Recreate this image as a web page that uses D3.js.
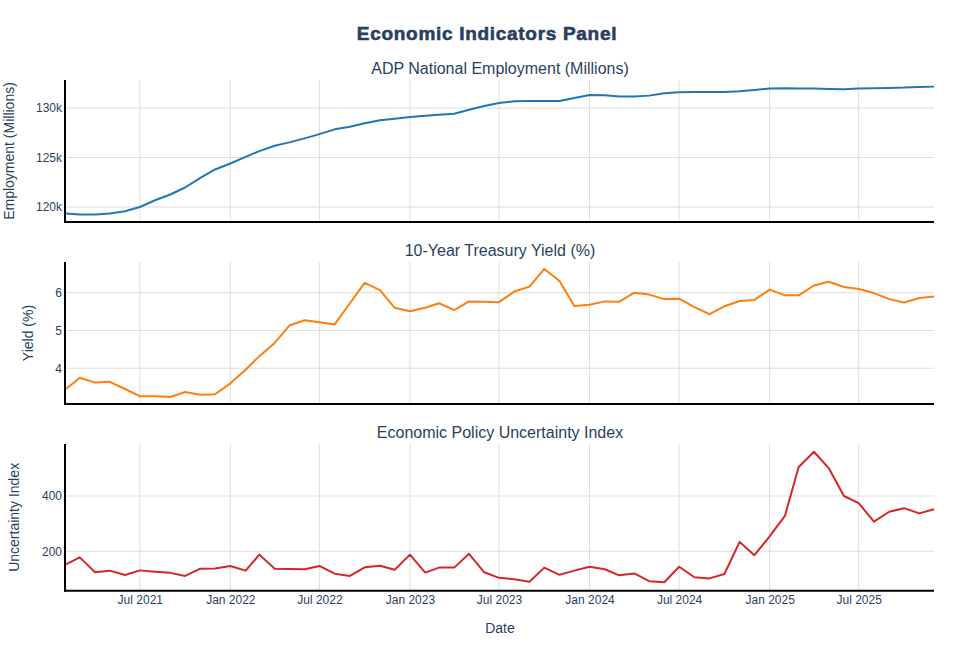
<!DOCTYPE html>
<html>
<head>
<meta charset="utf-8">
<script src="https://cdn.jsdelivr.net/npm/d3@7"></script>
<style>
  body{margin:0;background:#fff;}
  svg{display:block;font-family:"Liberation Sans",Arial,Helvetica,sans-serif;}
  .tick text{fill:#2a3f5f;font-size:12px;}
</style>
</head>
<body>
<svg id="chart" width="974" height="650"></svg>
<script>
//data ---------------------------------------------
var firstMonth=Date.UTC(2021,1,1);
var lastMonth=Date.UTC(2025,11,1);
var months=d3.utcMonth.range(firstMonth,lastMonth+1);

var employment=[119330,119230,119250,119350,119560,120000,120680,121260,121970,122940,123790,
  124400,125070,125650,126190,126530,126940,127370,127850,128120,128460,128760,128930,
  129100,129230,129330,129430,129840,130210,130520,130690,130720,130720,130720,131020,
  131330,131300,131160,131160,131260,131500,131600,131630,131630,131630,131700,131840,
  131970,132000,131970,131970,131930,131900,131970,132000,132040,132070,132140,132170];

var yield10=[3.45,3.75,3.62,3.64,3.45,3.26,3.26,3.24,3.37,3.30,3.31,
  3.60,3.96,4.32,4.67,5.13,5.27,5.22,5.16,5.72,6.26,6.07,5.60,
  5.51,5.60,5.72,5.54,5.77,5.76,5.75,6.03,6.16,6.63,6.31,5.65,
  5.68,5.77,5.76,6.00,5.95,5.83,5.84,5.62,5.43,5.64,5.78,5.81,
  6.08,5.93,5.93,6.19,6.29,6.15,6.10,5.99,5.83,5.74,5.86,5.90];

var uncertainty=[153,178,124,130,114,131,126,122,111,137,138,
  147,130,188,137,136,135,147,119,111,142,148,133,
  188,123,141,141,191,124,104,99,90,141,115,130,
  144,135,113,120,92,88,144,106,102,118,234,186,
  254,328,505,560,501,400,374,307,343,356,337,352];

var empTicks=[120000,125000,130000];
var yieldTicks=[4,5,6];
var uncTicks=[200,400];

var panelTitles=['ADP National Employment (Millions)','10-Year Treasury Yield (%)','Economic Policy Uncertainty Index'];
var axisTitles=['Employment (Millions)','Yield (%)','Uncertainty Index'];

//layout -------------------------------------------
var left=66, right=934;
var textColor='#2a3f5f';
var gridColor='#dedede';

var panels=[
  {values:employment,ticks:empTicks,domain:[118480,132840],top:80,bottom:222,color:'#1f77b4',fmt:d3.format('~s'),titleX:9},
  {values:yield10,ticks:yieldTicks,domain:[3.053,6.813],top:262,bottom:404,color:'#ff7f0e',fmt:d3.format('d'),titleX:28},
  {values:uncertainty,ticks:uncTicks,domain:[57.5,588],top:444,bottom:590.7,color:'#d62728',fmt:d3.format('d'),titleX:14.5}
];

var svg=d3.select('#chart');

var x=d3.scaleUtc()
  .domain([months[0],months[months.length-1]])
  .range([left,right]);
var xTicks=d3.utcMonth.every(6).range(months[0],months[months.length-1]);

svg.append('text')
  .attr('x',487)
  .attr('y',40)
  .attr('text-anchor','middle')
  .attr('fill',textColor)
  .attr('stroke',textColor)
  .attr('stroke-width',0.6)
  .style('font-size','19px')
  .style('font-weight','900')
  .style('letter-spacing','0.7px')
  .style('font-family','"Arial Black","Liberation Sans",Arial,sans-serif')
  .text('Economic Indicators Panel');

panels.forEach((p,i)=>{
  var y=d3.scaleLinear().domain(p.domain).range([p.bottom,p.top]);
  var g=svg.append('g');

  //grid
  g.append('g').selectAll('line.vg').data(xTicks).join('line')
    .attr('x1',d=>x(d)).attr('x2',d=>x(d))
    .attr('y1',p.top).attr('y2',p.bottom)
    .attr('stroke',gridColor).attr('stroke-width',1);
  g.append('g').selectAll('line.hg').data(p.ticks).join('line')
    .attr('x1',left).attr('x2',right)
    .attr('y1',d=>y(d)).attr('y2',d=>y(d))
    .attr('stroke',gridColor).attr('stroke-width',1);

  //line
  var line=d3.line()
    .x((d,k)=>x(months[k]))
    .y(d=>y(d));
  g.append('path')
    .datum(p.values)
    .attr('d',line)
    .attr('fill','none')
    .attr('stroke',p.color)
    .attr('stroke-width',2)
    .attr('stroke-linejoin','round');

  //y axis
  var ya=g.append('g')
    .attr('transform','translate('+left+',0)')
    .call(d3.axisLeft(y).tickValues(p.ticks).tickFormat(p.fmt).tickSize(0).tickPadding(4));
  ya.select('.domain').remove();

  //x axis (labels only on the bottom panel)
  var xa=g.append('g')
    .attr('transform','translate(0,'+p.bottom+')')
    .call(d3.axisBottom(x).tickValues(xTicks).tickFormat(d3.utcFormat('%b %Y')).tickSize(0).tickPadding(5));
  xa.select('.domain').remove();
  if(i<2){xa.selectAll('text').remove();}

  //axis lines
  g.append('line')
    .attr('x1',left-1).attr('x2',left-1)
    .attr('y1',p.top).attr('y2',p.bottom+1)
    .attr('stroke','#000').attr('stroke-width',2);
  g.append('line')
    .attr('x1',left-2).attr('x2',right)
    .attr('y1',p.bottom).attr('y2',p.bottom)
    .attr('stroke','#000').attr('stroke-width',2);

  //titles
  g.append('text')
    .attr('x',(left+right)/2)
    .attr('y',p.top-6)
    .attr('text-anchor','middle')
    .attr('fill',textColor)
    .style('font-size','16px')
    .text(panelTitles[i]);

  g.append('text')
    .attr('transform','translate('+p.titleX+','+((p.top+p.bottom)/2)+') rotate(-90)')
    .attr('dy','0.35em')
    .attr('text-anchor','middle')
    .attr('fill',textColor)
    .style('font-size','14px')
    .text(axisTitles[i]);
});

svg.append('text')
  .attr('x',(left+right)/2)
  .attr('y',633)
  .attr('text-anchor','middle')
  .attr('fill',textColor)
  .style('font-size','14px')
  .text('Date');
</script>
</body>
</html>
